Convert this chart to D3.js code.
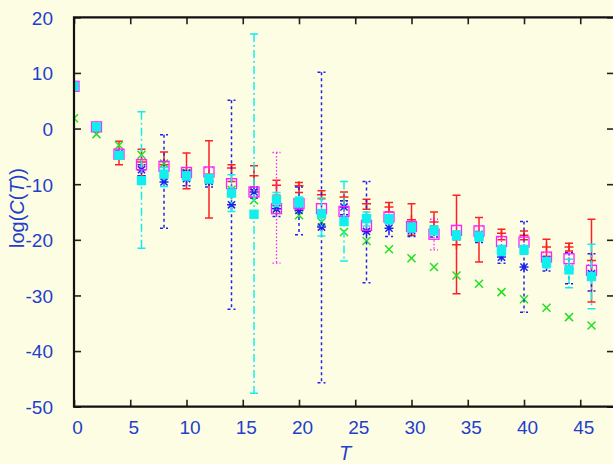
<!DOCTYPE html>
<html><head><meta charset="utf-8">
<script src="https://cdn.jsdelivr.net/npm/d3@7"></script>
<style>
html,body{margin:0;padding:0;background:#fdfde4;}
svg{display:block;}
</style></head>
<body>
<svg id="c" width="613" height="464"></svg>
<script>
const T = [0,2,4,6,8,10,12,14,16,18,20,22,24,26,28,30,32,34,36,38,40,42,44,46];

const redY  = [7.6,0.3,-4.4,-6.0,-6.5,-7.7,-8.2,-7.1,-8.5,-10.2,-10.3,-11.9,-12.3,-13.5,-14.1,-16.4,-16.8,-20.9,-19.5,-18.8,-19.2,-21.3,-21.3,-23.7];
const redHi = [7.6,0.6,-2.3,-3.7,-4.2,-4.4,-2.2,-6.5,-6.7,-9.3,-9.7,-11.2,-11.4,-12.7,-13.3,-13.5,-15.0,-12.0,-16.0,-18.1,-18.4,-19.9,-20.6,-16.3];
const redLo = [7.6,0.0,-6.5,-8.5,-9.0,-10.8,-16.1,-9.5,-11.0,-12.0,-11.5,-12.6,-13.0,-14.5,-15.0,-19.2,-18.6,-29.7,-24.0,-20.0,-20.0,-23.0,-22.0,-31.2];

const greenY = [1.85,-1.0,-3.0,-4.7,-6.3,-8.0,-9.3,-11.0,-12.9,-14.5,-15.6,-16.8,-18.6,-20.2,-21.7,-23.3,-24.9,-26.4,-27.9,-29.4,-30.7,-32.2,-33.9,-35.4];

const blueY  = [7.6,0.3,-4.8,-7.4,-9.6,-9.0,-9.5,-13.7,-11.4,-14.4,-14.7,-17.7,-14.1,-18.5,-17.9,-18.3,-18.5,-19.2,-19.5,-23.1,-24.9,-24.3,-25.3,-26.1];
const blueHi = [7.6,0.3,-4.0,-6.5,-1.1,-7.5,-8.5,5.1,-10.5,-13.0,-10.5,10.1,-13.0,-9.5,-16.5,-17.0,-17.5,-18.5,-18.5,-22.0,-16.7,-23.0,-22.3,-22.5];
const blueLo = [7.6,0.3,-5.5,-8.5,-17.9,-10.3,-10.5,-32.5,-12.5,-15.8,-19.1,-45.7,-15.5,-27.7,-19.4,-19.4,-19.5,-20.0,-20.5,-24.2,-33.0,-25.6,-27.9,-29.2];

const magY  = [7.6,0.3,-4.6,-6.5,-6.8,-7.9,-7.8,-9.9,-11.4,-14.4,-13.5,-14.4,-14.9,-17.4,-15.9,-17.6,-19.0,-18.3,-18.4,-20.3,-20.4,-23.1,-23.4,-25.5];
const magHi = [7.6,0.3,-4.0,-5.5,-6.0,-7.0,-7.0,-9.0,-10.5,-4.3,-12.5,-13.5,-14.0,-16.5,-15.0,-16.8,-16.3,-17.5,-17.5,-19.5,-19.5,-22.3,-22.5,-24.5];
const magLo = [7.6,0.3,-5.2,-7.5,-7.6,-8.8,-8.6,-10.8,-12.3,-24.2,-14.5,-15.3,-15.8,-18.3,-16.8,-18.4,-21.8,-19.1,-19.3,-21.1,-21.3,-24.0,-24.3,-26.4];

const cyanY  = [7.6,0.3,-4.8,-9.35,-8.2,-8.5,-9.0,-11.6,-15.4,-12.8,-13.2,-15.3,-16.7,-16.2,-16.3,-17.8,-18.3,-19.2,-19.4,-21.9,-21.8,-24.1,-25.4,-26.6];
const cyanHi = [7.6,0.3,-4.3,3.0,-7.0,-7.8,-8.2,-8.3,17.0,-11.5,-12.3,-12.5,-9.5,-15.0,-15.5,-17.0,-17.5,-18.4,-18.6,-21.0,-21.0,-23.2,-23.5,-20.8];
const cyanLo = [7.6,0.3,-5.3,-21.5,-10.4,-9.2,-9.8,-14.9,-47.6,-14.0,-14.1,-19.3,-23.8,-17.5,-17.1,-18.6,-19.1,-20.0,-20.2,-22.8,-22.6,-25.0,-28.6,-32.4];

const xTicks = [0,5,10,15,20,25,30,35,40,45];
const yTicks = [-50,-40,-30,-20,-10,0,10,20];

const svg = d3.select("#c");
const L = 74, R = 614, TOP = 17.3, BOT = 406.7;
const x = d3.scaleLinear().domain([0,48]).range([L,R]);
const y = d3.scaleLinear().domain([-50,20]).range([BOT,TOP]);
const labelColor = "#1f3fcc";
const font = "'Liberation Sans', Arial, sans-serif";
const fmt = d => String(d);

svg.append("rect").attr("width",613).attr("height",464).attr("fill","#fdfde4");

const clip = svg.append("defs").append("clipPath").attr("id","pc");
clip.append("rect").attr("x",L).attr("y",TOP).attr("width",R-L).attr("height",BOT-TOP);

function styleAxis(g){ g.select(".domain").remove(); g.selectAll(".tick line").attr("stroke","#222").attr("stroke-width",1.6); }
const gb = svg.append("g").attr("transform",`translate(0,${BOT})`)
  .call(d3.axisBottom(x).tickValues(xTicks).tickSizeInner(-7).tickSizeOuter(0).tickPadding(14).tickFormat(fmt));
styleAxis(gb);
gb.selectAll("text").attr("fill",labelColor).style("font-family",font).style("font-size","19px").attr("dx",3);
const gt = svg.append("g").attr("transform",`translate(0,${TOP})`)
  .call(d3.axisTop(x).tickValues(xTicks).tickSizeInner(-7).tickSizeOuter(0).tickFormat(""));
styleAxis(gt);
const gl = svg.append("g").attr("transform",`translate(${L},0)`)
  .call(d3.axisLeft(y).tickValues(yTicks).tickSizeInner(-7).tickSizeOuter(0).tickPadding(21).tickFormat(fmt));
styleAxis(gl);
gl.selectAll("text").attr("fill",labelColor).style("font-family",font).style("font-size","19px").attr("dy","0.36em");
const gr = svg.append("g").attr("transform",`translate(${R},0)`)
  .call(d3.axisRight(y).tickValues(yTicks).tickSizeInner(-7).tickSizeOuter(0).tickFormat(""));
styleAxis(gr);

const plot = svg.append("g").attr("clip-path","url(#pc)");

function errorbars(vals, lo, hi, color, dash, width){
  const g = plot.append("g").attr("stroke",color).attr("stroke-width",width).attr("fill","none");
  if (dash) g.attr("stroke-dasharray",dash);
  T.forEach((t,i)=>{
    if (hi[i]===lo[i]) return;
    const cx = x(t);
    g.append("line").attr("x1",cx).attr("x2",cx).attr("y1",y(hi[i])).attr("y2",y(lo[i]));
    g.append("line").attr("x1",cx-4).attr("x2",cx+4).attr("y1",y(hi[i])).attr("y2",y(hi[i]));
    g.append("line").attr("x1",cx-4).attr("x2",cx+4).attr("y1",y(lo[i])).attr("y2",y(lo[i]));
  });
}
function marker(vals, type, color){
  const g = plot.append("g");
  T.forEach((t,i)=>{
    const cx = x(t), cy = y(vals[i]);
    const s = 4.5;
    if (type==="plus"){
      g.append("path").attr("d",`M${cx-s},${cy}H${cx+s}M${cx},${cy-s}V${cy+s}`).attr("stroke",color).attr("stroke-width",1.5);
    } else if (type==="cross"){
      const c = 4;
      g.append("path").attr("d",`M${cx-c},${cy-c}L${cx+c},${cy+c}M${cx-c},${cy+c}L${cx+c},${cy-c}`).attr("stroke",color).attr("stroke-width",1.5);
    } else if (type==="star"){
      const c = 3.6;
      g.append("path").attr("d",`M${cx-s},${cy}H${cx+s}M${cx},${cy-s}V${cy+s}M${cx-c},${cy-c}L${cx+c},${cy+c}M${cx-c},${cy+c}L${cx+c},${cy-c}`).attr("stroke",color).attr("stroke-width",1.5);
    } else if (type==="box"){
      g.append("rect").attr("x",cx-5).attr("y",cy-5).attr("width",10).attr("height",10).attr("fill","none").attr("stroke",color).attr("stroke-width",1.3);
    } else if (type==="fbox"){
      g.append("rect").attr("x",cx-4.7).attr("y",cy-4.7).attr("width",9.4).attr("height",9.4).attr("fill",color);
    }
  });
}

const cRed = "#ff2020", cGreen = "#22e022", cBlue = "#2020ee", cMag = "#ff20ff", cCyan = "#10eeee";

errorbars(redY, redLo, redHi, cRed, null, 1.5);
marker(redY, "plus", cRed);
marker(greenY, "cross", cGreen);
errorbars(blueY, blueLo, blueHi, cBlue, "3,3", 1.5);
marker(blueY, "star", cBlue);
errorbars(magY, magLo, magHi, cMag, "1.5,2", 1.3);
marker(magY, "box", cMag);
errorbars(cyanY, cyanLo, cyanHi, cCyan, "8,3,2,3", 1.5);
marker(cyanY, "fbox", cCyan);

svg.append("path").attr("d",`M${R},${TOP}H${L}V${BOT}H${R}`).attr("fill","none").attr("stroke","#111").attr("stroke-width",2.2);

svg.append("text").attr("x",345).attr("y",460).attr("text-anchor","middle")
  .attr("fill",labelColor).style("font-family",font).style("font-size","20px").style("font-style","italic").text("T");
const yl = svg.append("text").attr("transform","translate(24,208) rotate(-90)").attr("text-anchor","middle")
  .attr("fill",labelColor).style("font-family",font).style("font-size","20px");
yl.append("tspan").text("log(");
yl.append("tspan").style("font-style","italic").text("C");
yl.append("tspan").text("(");
yl.append("tspan").style("font-style","italic").text("T");
yl.append("tspan").text("))");
</script>
</body></html>
